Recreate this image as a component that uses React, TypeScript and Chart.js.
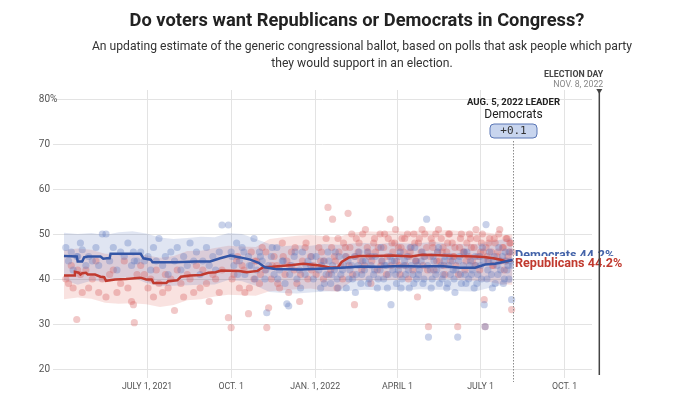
import React, { useEffect, useRef } from 'react';
import { Chart, registerables } from 'chart.js';

Chart.register(...registerables);

const NARROW = '"Liberation Sans Narrow", Roboto, sans-serif';
const SANS = 'Roboto, "Noto Sans", sans-serif';
const DEM = '#3456a6';
const REP = '#c13a2f';

// Day 0 = April 1, 2021
const tickDays = [91, 183, 275, 365, 456, 548];
const tickLabels = ['JULY 1, 2021', 'OCT. 1', 'JAN. 1, 2022', 'APRIL 1', 'JULY 1', 'OCT. 1'];
const yTicks = [20, 30, 40, 50, 60, 70, 80];
const leaderDay = 491; // Aug. 5, 2022
const electionDay = 586; // Nov. 8, 2022
const leaderMargin = '+0.1';

const demLineDays = [0, 14, 15, 20, 22, 26, 40, 43, 47, 50, 51, 84, 87, 95, 97, 122, 144, 160, 171, 182, 193, 204, 213, 220, 231, 259, 281, 303, 325, 346, 368, 390, 412, 434, 450, 461, 472, 477, 483, 491];
const demLineVals = [45.1, 45.0, 43.9, 43.9, 44.8, 45.0, 45.0, 44.5, 44.6, 44.6, 45.6, 45.6, 44.6, 44.3, 43.7, 43.7, 43.9, 43.9, 44.6, 45.2, 44.8, 44.3, 43.6, 42.6, 42.2, 42.1, 42.3, 42.5, 42.8, 42.7, 42.9, 42.8, 42.9, 42.5, 42.5, 43.2, 43.4, 43.6, 43.9, 44.2];

const repLineDays = [0, 11, 12, 16, 18, 20, 24, 26, 34, 40, 44, 46, 56, 68, 84, 90, 96, 98, 112, 114, 124, 128, 138, 150, 158, 166, 172, 192, 200, 212, 218, 228, 250, 262, 280, 292, 300, 304, 312, 324, 340, 360, 380, 392, 410, 430, 450, 460, 470, 478, 484, 491];
const repLineVals = [40.8, 40.8, 41.6, 41.4, 41.0, 41.3, 41.4, 41.0, 41.0, 40.5, 40.4, 39.6, 39.9, 40.0, 40.3, 39.9, 39.9, 39.1, 39.1, 39.5, 39.7, 40.5, 40.8, 40.9, 41.4, 41.5, 41.9, 41.8, 41.5, 41.8, 42.6, 42.7, 43.1, 43.4, 43.0, 42.5, 42.6, 43.8, 44.8, 45.1, 45.1, 45.2, 45.0, 45.4, 45.3, 45.1, 45.0, 44.9, 44.6, 44.3, 43.9, 44.2];

const bandDays = [0, 15, 30, 45, 60, 75, 90, 105, 120, 135, 150, 165, 180, 195, 210, 225, 240, 255, 270, 285, 300, 315, 330, 345, 360, 375, 390, 405, 420, 435, 450, 465, 480, 491];
const demHi = [50.3, 50.0, 50.2, 49.8, 50.4, 50.6, 50.1, 49.2, 48.9, 49.1, 49.4, 49.3, 50.2, 50.0, 48.9, 47.8, 47.3, 47.5, 47.4, 47.8, 47.6, 47.9, 48.0, 47.8, 48.1, 47.9, 48.0, 48.2, 47.9, 47.8, 47.7, 48.3, 48.8, 49.2];
const demLo = [39.8, 38.7, 39.6, 39.4, 40.2, 40.4, 39.1, 38.4, 38.5, 38.6, 38.7, 38.8, 39.8, 39.5, 38.5, 37.1, 36.9, 36.8, 37.0, 37.2, 37.3, 37.4, 37.6, 37.5, 37.6, 37.5, 37.7, 37.6, 37.6, 37.3, 37.2, 38.0, 38.7, 39.2];
const repHi = [46.4, 46.8, 46.5, 45.6, 45.5, 45.6, 45.3, 44.7, 45.1, 46.2, 46.3, 46.9, 47.4, 47.2, 47.1, 48.9, 49.3, 49.6, 49.8, 49.5, 49.3, 50.3, 50.6, 50.5, 50.7, 50.5, 50.8, 50.7, 50.9, 50.6, 50.5, 50.3, 49.8, 49.9];
const repLo = [35.5, 35.9, 35.6, 34.7, 34.5, 34.6, 34.4, 33.8, 34.2, 35.3, 35.5, 36.1, 36.5, 36.4, 36.3, 37.3, 37.5, 37.7, 37.9, 37.4, 37.2, 39.5, 39.7, 39.6, 39.8, 39.7, 39.9, 39.8, 40.0, 39.7, 39.6, 39.4, 38.8, 38.7];

const pollDays = [
  2, 5, 8, 10, 14, 15, 18, 20, 24, 27, 31, 35, 38, 42, 46, 50, 54, 58, 62, 66, 70, 74, 76, 77, 80, 84, 88,
  92, 95, 98, 101, 104, 108, 111, 114, 117, 121, 124, 128, 131, 135, 138, 142, 145, 149, 152, 156, 159, 163, 166, 170,
  173, 180, 183, 186, 189, 192, 195, 198, 202, 205, 208, 211, 214, 217, 220, 222, 224, 227, 230, 233, 236, 239, 242, 244, 246, 249, 252, 255, 258, 261, 264, 267, 270,
  273, 276, 279, 281, 284, 287, 289, 292, 294, 296, 299, 301, 303, 306, 309, 311, 313, 316, 318, 320, 322, 325, 327, 329, 332, 334, 336, 339, 341, 343, 346, 348, 350, 353, 355, 357, 358, 360,
  362, 364, 366, 368, 370, 372, 374, 376, 378, 380, 382, 384, 386, 387,
  389, 391, 393, 395, 397, 399, 401, 403, 405, 407, 409, 411, 413, 415, 417, 419, 421, 423, 425, 427, 429, 431, 433, 435, 437, 439, 441, 443, 445, 447, 449, 451, 453, 455, 457, 459,
  460, 461, 462, 464, 466, 468, 470, 472, 474, 476, 478, 480, 482, 484, 486, 488, 490, 491,
];
const pollDem = [
  47, 44, 46, 42, 45, 45, 48, 46.5, 43, 45, 44, 47, 43, 50, 50, 44, 47, 42, 46, 45, 48, 43, 46, 44, 44, 46, 44,
  45, 42, 47, 44, 49, 43, 45, 41, 46, 44, 47, 42, 45, 43, 48, 44, 46, 41, 44, 47, 43, 45, 42, 46,
  52, 52, 46, 43, 48, 44, 47, 41, 45, 43, 49, 42, 46, 44, 40, 32.5, 43, 45, 41, 47, 42, 44, 39, 34.5, 34, 43, 45, 40, 42, 46, 41, 44, 43,
  40, 45, 42, 38, 44, 41, 46, 39, 43, 42, 40, 45, 41, 43, 38, 44, 42, 40, 45, 41, 43, 39, 44, 42, 46, 40, 43, 41, 45, 38, 42, 44, 40, 43, 41, 45, 34.3, 42,
  44, 39, 42, 46, 40, 43, 41, 45, 38, 43, 41, 47, 40, 43,
  42, 44, 39, 45, 53.3, 27.1, 42, 40, 44, 41, 46, 39, 43, 41, 45, 38, 43, 41, 44, 40, 42, 27.1, 45, 39, 43, 41, 46, 40, 44, 42, 38, 43, 41, 45, 40, 44,
  34.3, 29.4, 52.1, 42, 46, 41, 44, 39, 43, 47, 42, 45, 40, 44, 43, 46, 35.4, 43,
];
const pollRep = [
  40, 39, 43, 38, 31, 42, 41, 37, 42, 38, 40, 44, 37, 40, 36, 41, 42, 37, 39, 44, 38, 35, 34.3, 30.3, 41, 43, 41,
  38, 40, 36, 42, 39, 37, 41, 38, 40, 33, 42, 39, 36, 41, 40, 37, 43, 38, 42, 39, 35, 41, 40, 37,
  42, 31.4, 29.2, 41, 44, 38, 43, 37, 32.3, 46, 40, 44, 39, 47, 42, 29.2, 33.6, 40, 45, 43, 38, 48, 41, 44, 37, 46, 42, 39, 35, 44, 47, 40, 45,
  43, 41, 47, 44, 40, 49, 55.9, 42, 53.3, 45, 38, 46, 43, 48, 45, 54.6, 47, 41, 34.3, 49, 46, 44, 50, 43, 47, 45, 39, 48, 46, 42, 50, 44, 47, 41, 49, 53.3, 43, 46,
  48, 44, 47, 41, 49, 46, 43, 50, 45, 47, 42, 48, 44, 36,
  49, 46, 43, 50, 47, 29.4, 45, 48, 42, 50, 46, 44, 49, 47, 41, 46, 50, 44, 48, 45, 43, 29.4, 47, 50, 46, 42, 48, 45, 49, 44, 47, 51, 45, 42, 48, 46,
  35.4, 29.4, 47, 44, 49, 46, 43, 48, 45, 50, 44, 47, 42, 49, 45, 48, 33.2, 46,
];

// additional polls on the same dates window (busier 2022 period)
const pollDays2 = [
  184, 190, 197, 203, 209, 215, 221, 228, 234, 240, 247, 253, 259, 265, 271,
  282, 285, 290, 293, 297, 300, 305, 308, 312, 315, 319, 323, 326, 330, 333, 337, 340, 344, 347, 351,
  354, 359, 363, 367, 369, 373, 377, 379, 383, 385, 388, 392, 394, 398, 402, 404, 408, 410, 414, 416,
  420, 422, 426, 428, 432, 434, 438, 440, 444, 446, 450, 452, 456, 458, 463, 465, 469, 471, 475, 477,
  481, 483, 485, 487, 489,
];
const pollDem2 = [
  45, 41, 46, 43, 40, 45, 42, 47, 40, 44, 41, 46, 38, 43, 45,
  43, 39, 44, 41, 46, 38, 42, 45, 40, 43, 37, 46, 41, 44, 39, 45, 42, 40, 47, 43,
  38, 44, 41, 45, 38, 44, 42, 47, 39, 44, 41, 46, 40, 43, 38, 45, 42, 47, 40, 44,
  39, 45, 42, 37, 44, 41, 46, 39, 43, 41, 45, 39, 43, 47, 40, 44, 38, 45, 41, 44,
  39, 46, 42, 40, 44,
];
const pollRep2 = [
  40, 45, 42, 38, 44, 41, 46, 43, 39, 45, 43, 47, 41, 48, 42,
  46, 44, 41, 47, 44, 49, 40, 47, 43, 50, 45, 48, 42, 51, 46, 44, 49, 47, 43, 50,
  45, 48, 51, 43, 47, 49, 40, 46, 50, 44, 48, 51, 45, 42, 49, 47, 44, 51, 46, 43,
  48, 50, 45, 47, 41, 49, 46, 44, 50, 47, 43, 49, 46, 50, 45, 48, 43, 49, 46, 51,
  47, 44, 49, 46, 48,
];

function pts(days: number[], vals: number[]) {
  return days.map((d, i) => ({ x: d, y: vals[i] }));
}

const overlay = {
  id: 'overlay',
  afterDatasetsDraw(chart: any) {
    const { ctx } = chart;
    const x = chart.scales.x;
    const y = chart.scales.y;
    ctx.save();

    // "%" after the top tick
    ctx.font = `10px ${NARROW}`;
    ctx.fillStyle = '#555';
    ctx.textAlign = 'left';
    ctx.textBaseline = 'middle';
    ctx.fillText('%', 50, y.getPixelForValue(80));

    // leader dotted line
    const lx = Math.round(x.getPixelForValue(leaderDay)) + 0.5;
    ctx.strokeStyle = '#8c8c8c';
    ctx.lineWidth = 1;
    ctx.setLineDash([1.5, 1.5]);
    ctx.beginPath();
    ctx.moveTo(lx, 141);
    ctx.lineTo(lx, 382);
    ctx.stroke();
    ctx.setLineDash([]);

    // leader annotation
    ctx.textAlign = 'center';
    ctx.textBaseline = 'alphabetic';
    ctx.fillStyle = '#222';
    ctx.font = `bold 9.5px ${NARROW}`;
    ctx.fillText('AUG. 5, 2022 LEADER', lx, 105);
    ctx.font = `12px ${SANS}`;
    ctx.fillText('Democrats', lx, 118);
    const bw = 47, bh = 14, bx = lx - bw / 2, by = 124;
    ctx.beginPath();
    ctx.roundRect(bx, by, bw, bh, 4);
    ctx.fillStyle = '#c8d5ee';
    ctx.fill();
    ctx.strokeStyle = '#5a76b5';
    ctx.lineWidth = 1;
    ctx.stroke();
    ctx.fillStyle = '#333';
    ctx.font = `11px "DejaVu Sans Mono", monospace`;
    ctx.textBaseline = 'middle';
    ctx.fillText(leaderMargin, lx, by + bh / 2 + 0.5);

    // end labels
    const dLast = demLineVals[demLineVals.length - 1];
    const rLast = repLineVals[repLineVals.length - 1];
    ctx.textAlign = 'left';
    ctx.textBaseline = 'alphabetic';
    ctx.font = `bold 12.6px ${SANS}`;
    ctx.fillStyle = '#4363a9';
    ctx.fillText(`Democrats ${dLast.toFixed(1)}%`, 515, 259);
    const rText = `Republicans ${rLast.toFixed(1)}%`;
    const rw = ctx.measureText(rText).width;
    ctx.fillStyle = '#fff';
    ctx.fillRect(514, 256, rw + 2, 13);
    ctx.fillStyle = REP;
    ctx.fillText(rText, 515, 267);

    // election day line
    const ex = x.getPixelForValue(electionDay);
    ctx.strokeStyle = '#444';
    ctx.lineWidth = 1.5;
    ctx.beginPath();
    ctx.moveTo(ex, 91);
    ctx.lineTo(ex, 375);
    ctx.stroke();
    ctx.fillStyle = '#444';
    ctx.beginPath();
    ctx.moveTo(ex - 3, 89);
    ctx.lineTo(ex + 3, 89);
    ctx.lineTo(ex, 94);
    ctx.closePath();
    ctx.fill();
    ctx.textAlign = 'right';
    ctx.font = `bold 8.8px ${NARROW}`;
    ctx.fillStyle = '#444';
    ctx.fillText('ELECTION DAY', ex + 4, 77);
    ctx.font = `8.8px ${NARROW}`;
    ctx.fillStyle = '#888';
    ctx.fillText('NOV. 8, 2022', ex + 4, 87);

    ctx.restore();
  },
};

export default function App() {
  const ref = useRef<HTMLCanvasElement>(null);

  useEffect(() => {
    const demPollPts = pts(pollDays, pollDem).concat(pts(pollDays2, pollDem2));
    const repPollPts = pts(pollDays, pollRep).concat(pts(pollDays2, pollRep2));
    const chart = new Chart(ref.current as HTMLCanvasElement, {
      type: 'line',
      data: {
        datasets: [
          { label: 'Democrats', data: pts(demLineDays, demLineVals), borderColor: DEM, borderWidth: 2.5, pointRadius: 0, fill: false, order: 0 },
          { label: 'Republicans', data: pts(repLineDays, repLineVals), borderColor: REP, borderWidth: 2.5, pointRadius: 0, fill: false, order: 0 },
          { label: 'Dem polls', data: demPollPts, showLine: false, pointRadius: 3.6, pointBorderWidth: 0, pointBackgroundColor: 'rgba(95,120,190,0.34)', order: 1 },
          { label: 'Rep polls', data: repPollPts, showLine: false, pointRadius: 3.6, pointBorderWidth: 0, pointBackgroundColor: 'rgba(215,95,95,0.34)', order: 1 },
          { label: 'Dem hi', data: pts(bandDays, demHi), borderWidth: 0, borderColor: 'transparent', pointRadius: 0, fill: '+1', backgroundColor: 'rgba(70,100,175,0.17)', order: 2 },
          { label: 'Dem lo', data: pts(bandDays, demLo), borderWidth: 0, borderColor: 'transparent', pointRadius: 0, fill: false, order: 2 },
          { label: 'Rep hi', data: pts(bandDays, repHi), borderWidth: 0, borderColor: 'transparent', pointRadius: 0, fill: '+1', backgroundColor: 'rgba(215,75,65,0.16)', order: 2 },
          { label: 'Rep lo', data: pts(bandDays, repLo), borderWidth: 0, borderColor: 'transparent', pointRadius: 0, fill: false, order: 2 },
        ],
      },
      options: {
        responsive: false,
        animation: false,
        devicePixelRatio: 1,
        layout: { padding: { top: 90, right: 88, left: 0, bottom: 0 } },
        plugins: { legend: { display: false }, tooltip: { enabled: false } },
        scales: {
          x: {
            type: 'linear',
            min: -12,
            max: 578,
            afterBuildTicks: (s: any) => { s.ticks = tickDays.map((v) => ({ value: v })); },
            afterFit: (s: any) => { s.height = 40; },
            grid: { color: '#e3e3e3', lineWidth: 1, drawTicks: true, tickLength: 9, tickColor: '#e3e3e3' },
            border: { display: false },
            ticks: {
              autoSkip: false,
              maxRotation: 0,
              padding: 4,
              color: '#555',
              font: { family: NARROW, size: 8.8 },
              callback: (_v: any, i: number) => tickLabels[i],
            },
          },
          y: {
            min: 20,
            max: 82,
            afterBuildTicks: (s: any) => { s.ticks = yTicks.map((v) => ({ value: v })); },
            afterFit: (s: any) => { s.width = 53; },
            grid: { color: '#e3e3e3', drawTicks: false },
            border: { display: false },
            ticks: { padding: 3, color: '#555', font: { family: NARROW, size: 10 }, callback: (v: any) => String(v) },
          },
        },
      },
      plugins: [overlay],
    } as any);
    return () => chart.destroy();
  }, []);

  return (
    <div style={{ position: 'fixed', left: 0, top: 0, width: 680, height: 409, background: '#fff', overflow: 'hidden' }}>
      <canvas ref={ref} width={680} height={409} style={{ position: 'absolute', left: 0, top: 0, width: 680, height: 409 }} />
      <div style={{ position: 'absolute', top: 10, left: 0, width: 714, textAlign: 'center', font: `bold 18.3px ${SANS}`, lineHeight: '20px', color: '#222', whiteSpace: 'nowrap' }}>
        Do voters want Republicans or Democrats in Congress?
      </div>
      <div style={{ position: 'absolute', top: 37, left: 0, width: 724, textAlign: 'center', font: `13px ${SANS}`, lineHeight: '17px', color: '#333', whiteSpace: 'nowrap', transform: 'scaleX(0.935)', transformOrigin: '362px 0' }}>
        An updating estimate of the generic congressional ballot, based on polls that ask people which party
        <br />
        they would support in an election.
      </div>
    </div>
  );
}
